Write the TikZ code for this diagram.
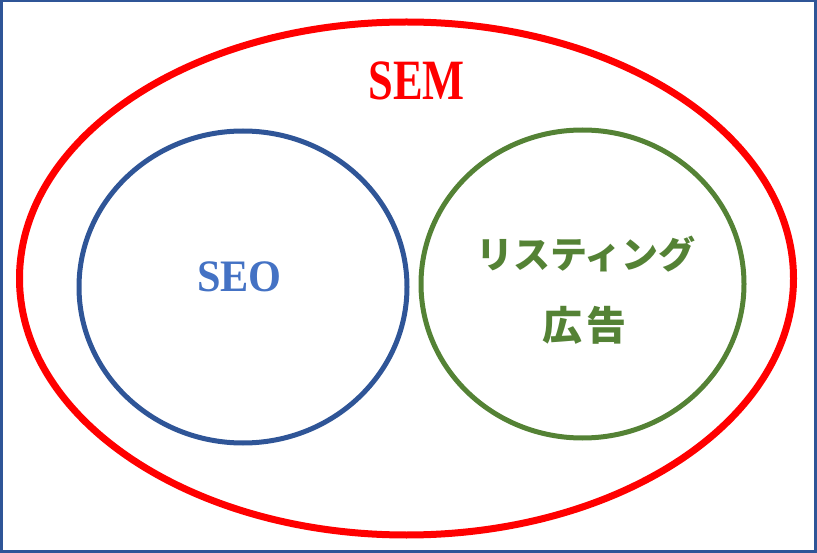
\documentclass[tikz,border=0pt]{standalone}
\usepackage{fontspec}
\setmainfont{Liberation Serif}
\newfontfamily\jp{Noto Sans CJK JP}
\definecolor{semred}{HTML}{FF0000}
\definecolor{seoline}{HTML}{2F5597}
\definecolor{seotext}{HTML}{4472C4}
\definecolor{lgreen}{HTML}{548235}
\definecolor{frame}{HTML}{2F5597}
\begin{document}
\begin{tikzpicture}[x=1pt,y=-1pt,
  lbl/.style={inner sep=0pt,anchor=base},
  jlbl/.style={inner sep=0pt,anchor=center,text=lgreen,font=\jp\bfseries\fontsize{37}{40}\selectfont}]
\useasboundingbox (0,0) rectangle (817,553);
\draw[frame,line width=2.5pt] (1.25,1.25) rectangle (815.5,551.5);
\coordinate (semc) at (406.5,278.5);
\coordinate (seoc) at (243,287);
\coordinate (lisc) at (582.5,284);
\draw[semred,line width=7pt] (semc) ellipse [x radius=387, y radius=256.5];
\draw[seoline,line width=5pt] (seoc) ellipse [x radius=164, y radius=156];
\draw[lgreen,line width=5pt] (lisc) ellipse [x radius=161.5, y radius=154];
\node[lbl,text=semred,font=\bfseries\fontsize{57}{60}\selectfont] (sem) at (416.5,100) {\scalebox{0.78}[1]{SEM}};
\node[lbl,text=seotext,font=\bfseries\fontsize{45}{48}\selectfont] (seo) at (239.5,292) {\scalebox{0.94}[1]{SEO}};
\node[jlbl] (lis1) at (586,254) {リスティング};
\node[jlbl,font=\jp\bfseries\fontsize{40}{44}\selectfont] (lis2) at (584.5,325) {広\hspace{4pt}告};
\end{tikzpicture}
\end{document}
